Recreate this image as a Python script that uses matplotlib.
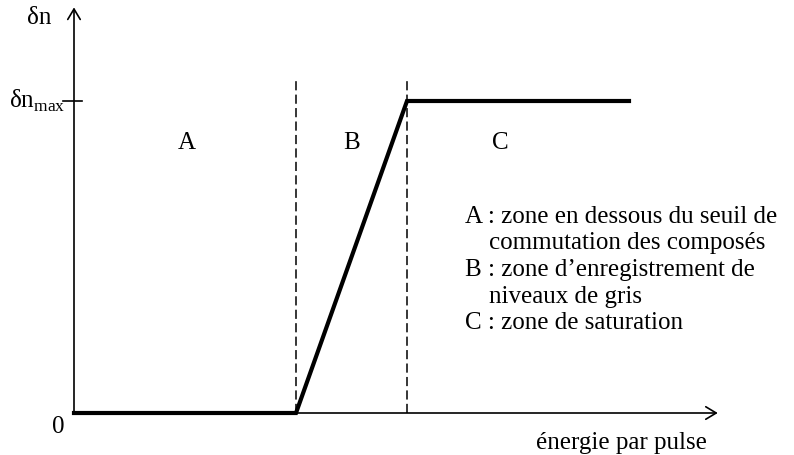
import matplotlib
matplotlib.use("Agg")
import matplotlib.pyplot as plt

plt.rcParams['font.family'] = ['Liberation Serif', 'DejaVu Serif']
plt.rcParams['mathtext.fontset'] = 'custom'
plt.rcParams['mathtext.rm'] = 'Liberation Serif'

# energy thresholds (arbitrary units) and normalised index change
energy = [0, 2, 3, 5]
delta_n = [0, 0, 1, 1]
thresholds = [2, 3]
zone_labels = ['A', 'B', 'C']
zone_centres = [1.02, 2.5, 3.84]
legend_lines = [
    ('A : zone en dessous du seuil de', 0),
    ('commutation des composés', 1),
    ('B : zone d\u2019enregistrement de', 0),
    ('niveaux de gris', 1),
    ('C : zone de saturation', 0),
]

fig = plt.figure(figsize=(7.94, 4.55), dpi=100)
ax = fig.add_axes([0, 0, 1, 1])
ax.set_xlim(-74 / 111, (794 - 74) / 111)
ax.set_ylim((413 - 455) / 312, 413 / 312)
ax.axis('off')

arrow = dict(arrowstyle='->,head_length=0.5,head_width=0.3', color='black',
             lw=1.2, mutation_scale=15, shrinkA=0, shrinkB=0)
# axes
ax.annotate('', xy=(0, 1.30), xytext=(0, 0), arrowprops=arrow)
ax.annotate('', xy=(5.8, 0), xytext=(0, 0), arrowprops=arrow)

# tick at dn_max
ax.plot([-0.1, 0.075], [1, 1], color='black', lw=1.2)

# zone boundaries
for t in thresholds:
    ax.plot([t, t], [0, 1.077], color='black', lw=1.1, ls=(0, (6, 2.8)))

# response curve
ax.plot(energy, delta_n, color='black', lw=3, solid_joinstyle='miter')

fs = 18
ax.text(-0.2, 1.265, 'δn', fontsize=fs, ha='right', va='center')
ax.text(-0.08, 1.0, r'δn$_{\mathrm{max}}$', fontsize=fs, ha='right', va='center')
ax.text(-0.14, -0.045, '0', fontsize=fs, ha='center', va='center')
ax.text(5.7, -0.095, 'énergie par pulse', fontsize=fs, ha='right', va='center')

for lab, xc in zip(zone_labels, zone_centres):
    ax.text(xc, 0.866, lab, fontsize=fs, ha='center', va='center')

y0 = (413 - 217) / 312
dy = 26.5 / 312
for i, (line, indent) in enumerate(legend_lines):
    x = (465 - 74) / 111 if indent == 0 else (489 - 74) / 111
    ax.text(x, y0 - i * dy, line, fontsize=fs, ha='left', va='center')

fig.savefig('out.png', dpi=100)
